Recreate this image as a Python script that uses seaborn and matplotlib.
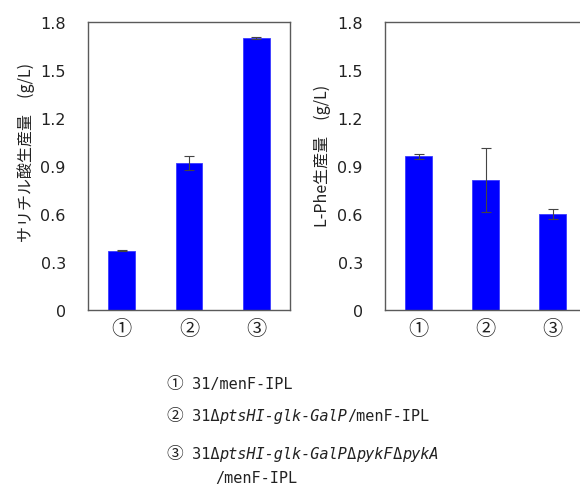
import matplotlib
matplotlib.use('Agg')
import matplotlib.pyplot as plt
import seaborn as sns
import pandas as pd

sns.set_style('white')
plt.rcParams['font.family'] = ['DejaVu Sans', 'Noto Sans CJK JP']

# data
strains = ['①', '②', '③']
sa_values = [0.37, 0.92, 1.70]
sa_errors = [0.004, 0.045, 0.006]
phe_values = [0.96, 0.815, 0.60]
phe_errors = [0.015, 0.20, 0.03]
yticks = [0, 0.3, 0.6, 0.9, 1.2, 1.5, 1.8]
ytick_labels = ['0', '0.3', '0.6', '0.9', '1.2', '1.5', '1.8']
sa_ylabel = 'サリチル酸生産量　(g/L)'
phe_ylabel = 'L-Phe生産量　(g/L)'

df_sa = pd.DataFrame({'strain': strains, 'value': sa_values, 'err': sa_errors})
df_phe = pd.DataFrame({'strain': strains, 'value': phe_values, 'err': phe_errors})

fig = plt.figure(figsize=(5.8, 4.85), dpi=100)
W, H = 580, 485
ax1 = fig.add_axes([88 / W, (H - 311) / H, 202 / W, 288 / H])
ax2 = fig.add_axes([385 / W, (H - 311) / H, 201 / W, 288 / H])

spine_col = '#5a5a5a'
for ax, df, ylab in [(ax1, df_sa, sa_ylabel), (ax2, df_phe, phe_ylabel)]:
    sns.barplot(data=df, x='strain', y='value', color='#0000ff', saturation=1,
                width=0.4, errorbar=None, ax=ax, edgecolor='#3a3aff', linewidth=0.6)
    ax.errorbar(range(len(df)), df['value'], yerr=df['err'], fmt='none',
                ecolor='#444444', elinewidth=0.8, capsize=3.5, capthick=0.8)
    ax.set_xlim(-0.5, 2.5)
    ax.set_ylim(0, 1.8)
    ax.set_yticks(yticks)
    ax.set_yticklabels(ytick_labels, fontsize=11.5, color='#222222')
    ax.set_xticks(range(len(strains)))
    ax.set_xticklabels(strains, fontsize=14.5, family=['Noto Sans CJK JP'], color='#222222')
    ax.tick_params(axis='x', length=0, pad=6)
    ax.tick_params(axis='y', length=3, width=0.8, color=spine_col, direction='out', pad=13)
    ax.set_xlabel('')
    ax.set_ylabel(ylab, fontsize=11.5, family=['Noto Sans CJK JP', 'DejaVu Sans'],
                  color='#222222')
    for s in ax.spines.values():
        s.set_visible(True)
        s.set_color(spine_col)
        s.set_linewidth(1.0)

ax1.yaxis.set_label_coords(-0.26, 0.55)
ax2.yaxis.set_label_coords(-0.27, 0.54)

# legend lines below the charts, regular and italic pieces chained left to right
lines = [
    (166, 389, ['①', ('31/menF-IPL', False)]),
    (166, 421, ['②', ('31Δ', False), ('ptsHI-glk-GalP', True), ('/menF-IPL', False)]),
    (166, 459, ['③', ('31Δ', False), ('ptsHI-glk-GalP', True), ('Δ', False),
                ('pykF', True), ('Δ', False), ('pykA', True)]),
]
for x_px, y_px, pieces in lines:
    yf = (H - y_px) / H
    prev = fig.text(x_px / W, yf, pieces[0], fontsize=12, family=['Noto Sans CJK JP'],
                    va='baseline', ha='left', color='#222222')
    for i, (txt, italic) in enumerate(pieces[1:]):
        if i == 0:
            txt = ' ' + txt
        prev = ax1.annotate(txt, xy=(1, yf), xycoords=(prev, 'figure fraction'),
                            fontsize=11, family='DejaVu Sans Mono',
                            style='oblique' if italic else 'normal',
                            va='baseline', ha='left', color='#222222',
                            annotation_clip=False)

fig.text(215 / W, (H - 483) / H, '/menF-IPL', fontsize=11, family='DejaVu Sans Mono',
         va='baseline', ha='left', color='#222222')

fig.savefig('out.png', dpi=100)
